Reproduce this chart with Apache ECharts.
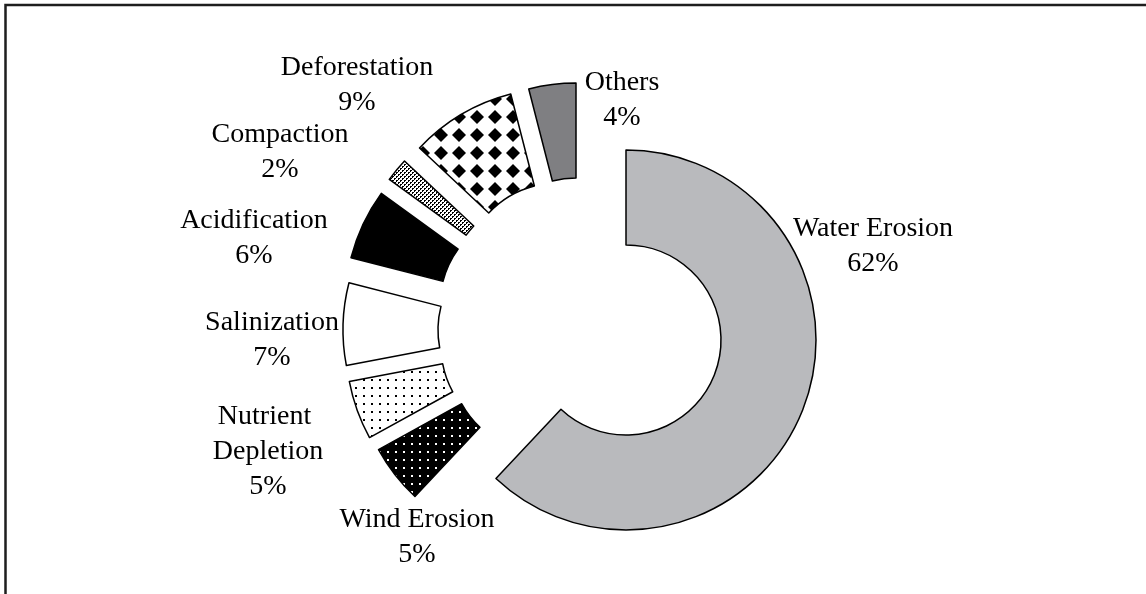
<!DOCTYPE html>
<html><head><meta charset="utf-8">
<script src="https://cdn.jsdelivr.net/npm/echarts@6/dist/echarts.min.js"></script>
<style>html,body{margin:0;padding:0;background:#fff}#c{width:1146px;height:594px}</style>
</head><body><div id="c"></div>
<script>
// ---- data ----
const categories = ['Water Erosion','Wind Erosion','Nutrient Depletion','Salinization','Acidification','Compaction','Deforestation','Others'];
const values = [62, 5, 5, 7, 6, 2, 9, 4];

// ---- layout (explosion centres of each slice, label anchor points) ----
const sliceCenters = [[626,340],[545,358],[536,346],[533,330],[535,305],[543,291],[558,278],[576,273]];
const labelCenters = [[873,246],[417,537],[268,452],[272,340],[254,238],[280,152],[357,85],[622,100]];

function pattern(size, draw){
  const c = document.createElement('canvas');
  c.width = c.height = size;
  const ctx = c.getContext('2d');
  draw(ctx, size);
  return {image: c, repeat: 'repeat'};
}
const fills = [
  '#b9babd',
  pattern(8, (g,s)=>{g.fillStyle='#000';g.fillRect(0,0,s,s);g.fillStyle='#fff';g.fillRect(3,3,2,2);}),
  pattern(8, (g,s)=>{g.fillStyle='#fff';g.fillRect(0,0,s,s);g.fillStyle='#000';g.fillRect(3,3,2,2);}),
  '#ffffff',
  '#000000',
  pattern(4, (g,s)=>{g.fillStyle='#fff';g.fillRect(0,0,s,s);g.fillStyle='#000';
    g.fillRect(0,0,2,1);g.fillRect(0,1,1,1);g.fillRect(2,2,2,1);g.fillRect(2,3,1,1);}),
  pattern(18, (g,s)=>{g.fillStyle='#fff';g.fillRect(0,0,s,s);g.fillStyle='#000';
    g.beginPath();g.moveTo(9,2);g.lineTo(16,9);g.lineTo(9,16);g.lineTo(2,9);g.closePath();g.fill();}),
  '#7f7f82'
];

const font = {fontFamily:'"Liberation Serif","Times New Roman",serif', fontSize:28, lineHeight:35, color:'#000'};

const series = categories.map((name, i) => ({
  type: 'pie',
  center: sliceCenters[i],
  radius: [95, 190],
  startAngle: 90,
  clockwise: true,
  silent: true,
  animation: false,
  avoidLabelOverlap: false,
  label: Object.assign({show: true, position: 'outside', align:'center',
    formatter: p => p.name + '\n' + p.percent + '%'}, font),
  labelLine: {show: false},
  labelLayout: () => ({x: labelCenters[i][0], y: labelCenters[i][1], align: 'center', verticalAlign: 'middle'}),
  data: categories.map((n, j) => ({
    name: n, value: values[j],
    itemStyle: j === i ? {color: fills[j], borderColor: '#000', borderWidth: 1.5}
                       : {color: 'rgba(0,0,0,0)', borderWidth: 0},
    label: j === i ? (n === 'Nutrient Depletion' ? {show: true, width: 150, overflow: 'break'} : {show: true}) : {show: false}
  }))
}));

const chart = echarts.init(document.getElementById('c'), null, {renderer: 'canvas'});
chart.setOption({
  backgroundColor: '#fff',
  animation: false,
  graphic: [{type: 'rect', shape: {x: 5.5, y: 5, width: 1300, height: 800},
    style: {fill: 'none', stroke: '#1e1e1e', lineWidth: 2.5}, silent: true, z: 100}],
  series: series
});
</script></body></html>
